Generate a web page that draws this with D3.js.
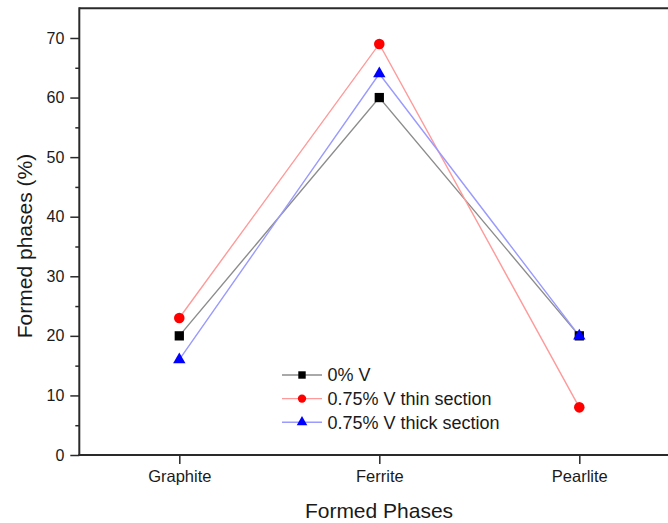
<!DOCTYPE html>
<html><head><meta charset="utf-8">
<script src="https://cdn.jsdelivr.net/npm/d3@7"></script>
<style>body{margin:0;background:#fff}svg{display:block}text{font-family:"Liberation Sans",Arial,sans-serif;fill:#1a1a1a}</style>
</head><body>
<script>
const categories = ["Graphite", "Ferrite", "Pearlite"];
const series0 = [20, 60, 20];
const seriesThin = [23, 69, 8];
const seriesThick = [16, 64, 20];
const seriesNames = ["0% V", "0.75% V thin section", "0.75% V thick section"];
const yTicks = [0, 10, 20, 30, 40, 50, 60, 70];
const yMinorTicks = [5, 15, 25, 35, 45, 55, 65];

const W = 668, H = 523;
const svg = d3.select("body").append("svg").attr("width", W).attr("height", H);
const x = d3.scaleLinear().domain([0.5, 3.5]).range([79.3, 679.3]);
const y = d3.scaleLinear().domain([0, 75]).range([455, 8.2]);
const axisColor = "#2a2a2a";

// frame
svg.append("line").attr("x1", x(0.5)).attr("x2", W + 5).attr("y1", y(75)).attr("y2", y(75)).attr("stroke", axisColor).attr("stroke-width", 2);

// y axis
const yAx = svg.append("g").attr("transform", `translate(${x(0.5)},0)`)
  .call(d3.axisLeft(y).tickValues(yTicks).tickSize(9).tickPadding(6).tickFormat(d3.format("d")));
yAx.select(".domain").attr("stroke", axisColor).attr("stroke-width", 2).attr("d", `M0,${y(0)+1}V${y(75)-1}`);
yAx.selectAll(".tick line").attr("stroke", axisColor).attr("stroke-width", 1.5);
yAx.selectAll(".tick text").style("font-size", "16px").style("font-family", '"Liberation Sans",Arial,sans-serif').attr("fill", "#1a1a1a");
const yMin = svg.append("g").attr("transform", `translate(${x(0.5)},0)`)
  .call(d3.axisLeft(y).tickValues(yMinorTicks).tickSize(4).tickFormat(""));
yMin.select(".domain").remove();
yMin.selectAll(".tick line").attr("stroke", axisColor).attr("stroke-width", 1.5);

// x axis
const xAx = svg.append("g").attr("transform", `translate(0,${y(0)})`)
  .call(d3.axisBottom(x).tickValues([1, 2, 3]).tickSize(9).tickPadding(6).tickFormat(d => categories[d - 1]));
xAx.select(".domain").attr("stroke", axisColor).attr("stroke-width", 2).attr("d", `M${x(0.5)-1},0H${W + 5}`);
xAx.selectAll(".tick line").attr("stroke", axisColor).attr("stroke-width", 1.5);
xAx.selectAll(".tick text").style("font-size", "16.5px").style("font-family", '"Liberation Sans",Arial,sans-serif').attr("fill", "#1a1a1a");

// axis titles
svg.append("text").attr("x", 379).attr("y", 518).attr("text-anchor", "middle").style("font-size", "21px").text("Formed Phases");
svg.append("text").attr("transform", "translate(32,246) rotate(-90)").attr("text-anchor", "middle").style("font-size", "21px").text("Formed phases (%)");

const cfg = [
  {data: series0, line: "#8c8c8c", fill: "#000", sym: d3.symbolSquare, size: 86, lsize: 55},
  {data: seriesThin, line: "#ff9a9a", fill: "#ff0000", sym: d3.symbolCircle, size: 88, lsize: 55},
  {data: seriesThick, line: "#9a9aff", fill: "#0000ff", sym: d3.symbolTriangle, size: 66, lsize: 48}
];
const line = d3.line().x((d, i) => x(i + 1)).y(d => y(d));
cfg.forEach(c => {
  svg.append("path").attr("d", line(c.data)).attr("fill", "none").attr("stroke", c.line).attr("stroke-width", 1.4);
});
cfg.forEach(c => {
  svg.selectAll(null).data(c.data).enter().append("path")
    .attr("d", d3.symbol().type(c.sym).size(c.size))
    .attr("transform", (d, i) => `translate(${x(i + 1)},${y(d)})`)
    .attr("fill", c.fill);
});

// legend
const rows = [375, 398.6, 422.2];
cfg.forEach((c, i) => {
  const g = svg.append("g").attr("transform", `translate(0,${rows[i]})`);
  g.append("line").attr("x1", 282).attr("x2", 322).attr("y1", 0).attr("y2", 0).attr("stroke", c.line).attr("stroke-width", 1.4);
  g.append("path").attr("d", d3.symbol().type(c.sym).size(c.lsize)).attr("transform", "translate(302,0)").attr("fill", c.fill);
  g.append("text").attr("x", 327.5).attr("y", 6.3).style("font-size", "18px").text(seriesNames[i]);
});
</script>
</body></html>
